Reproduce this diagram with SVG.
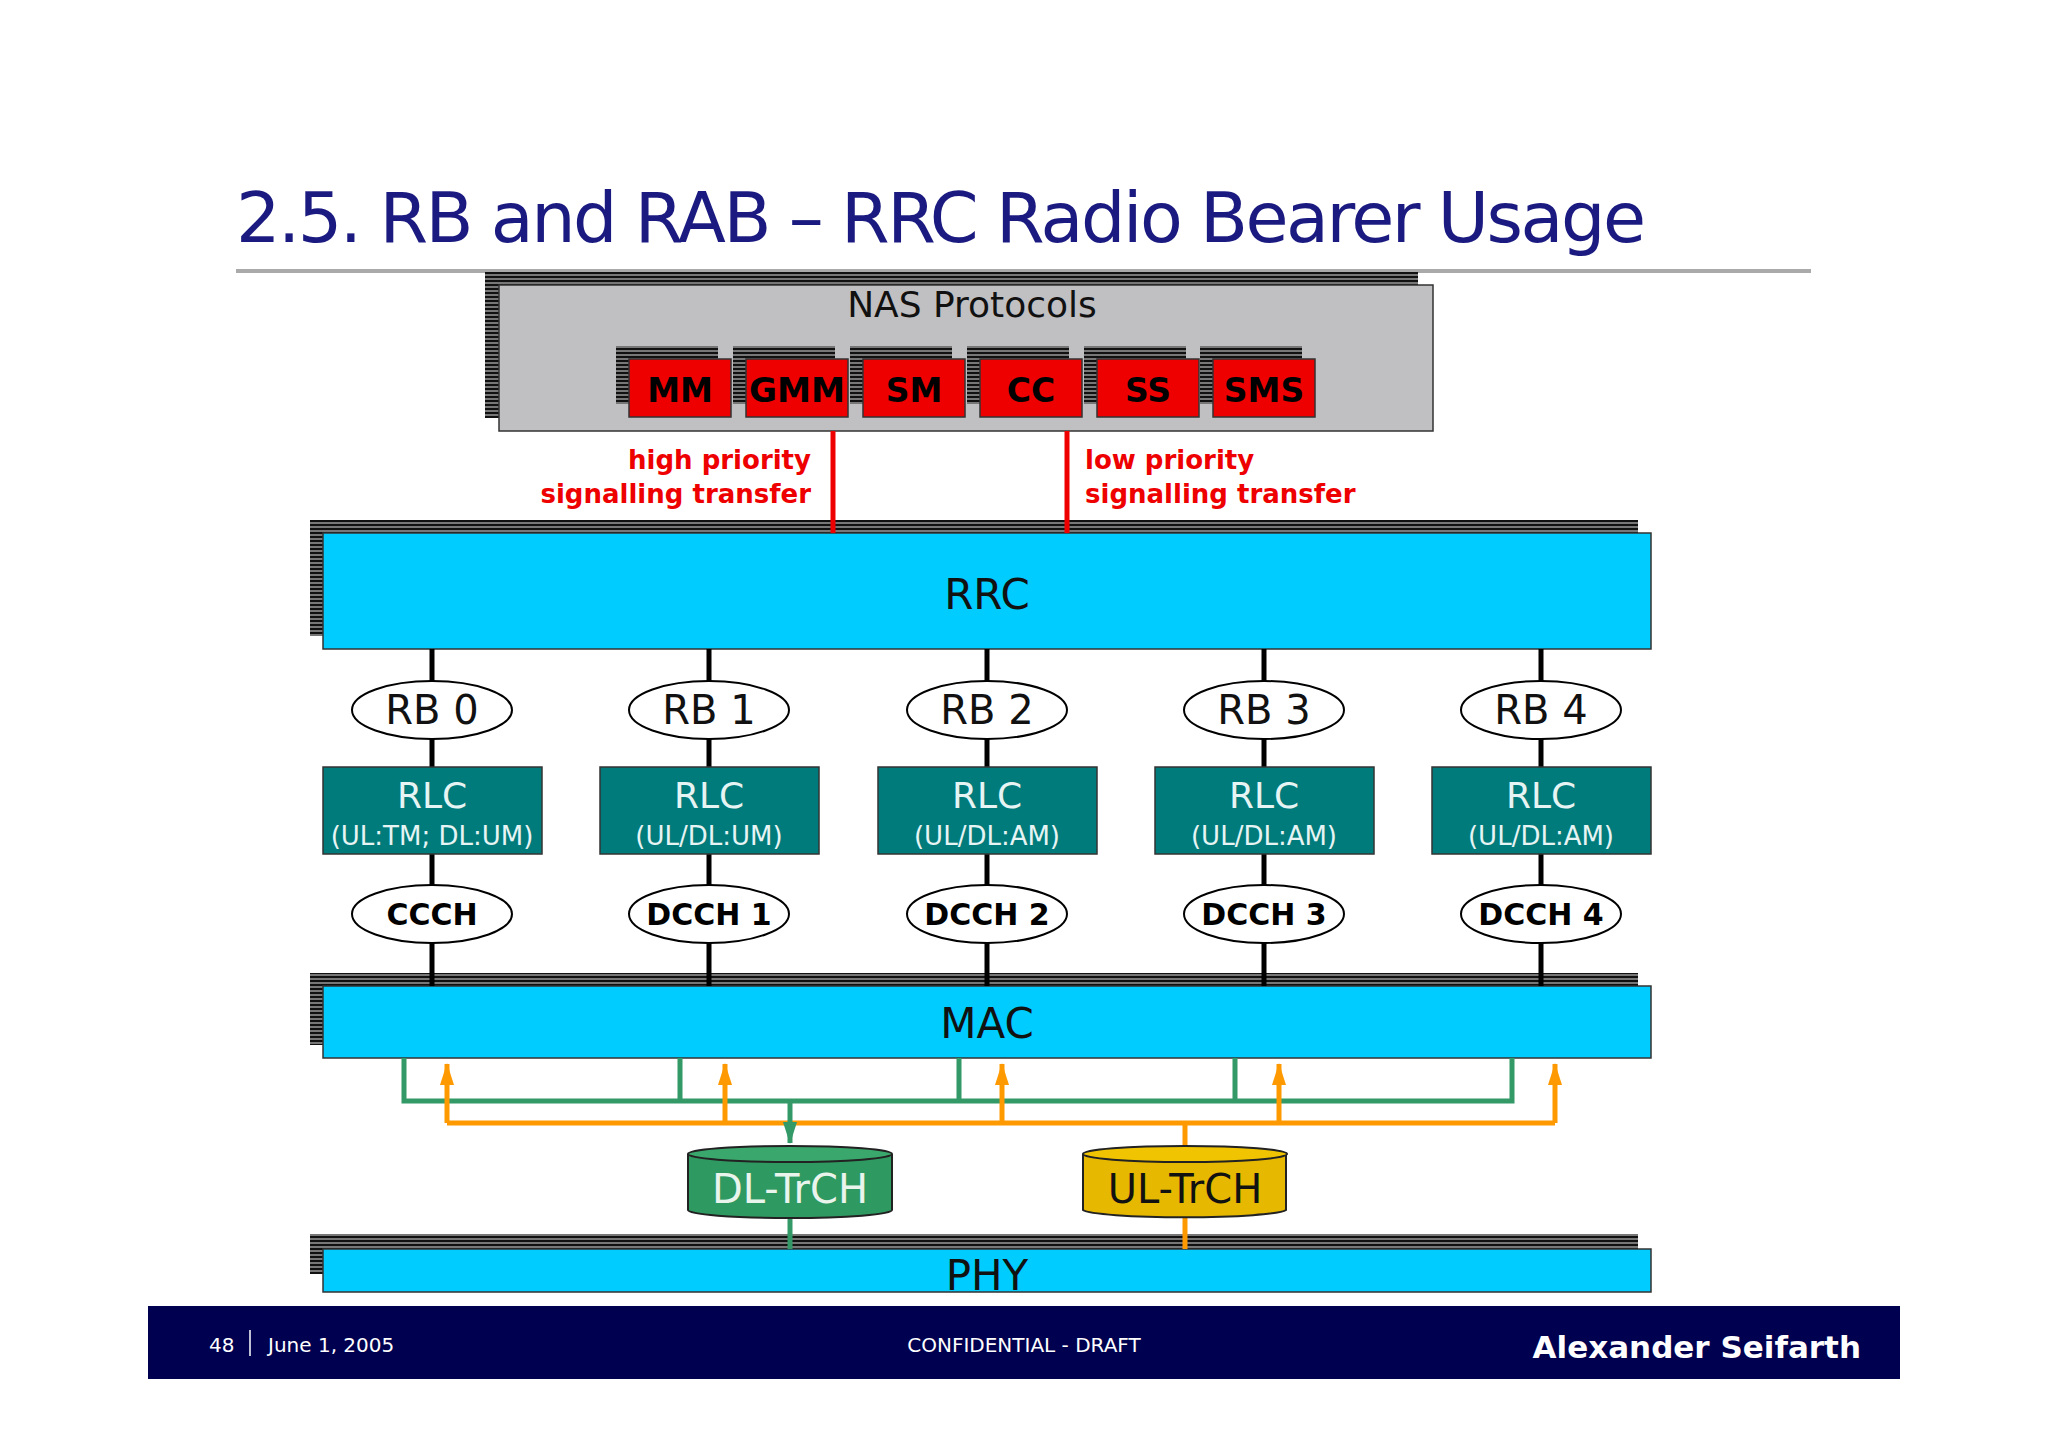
<svg xmlns="http://www.w3.org/2000/svg" width="2048" height="1447" viewBox="0 0 2048 1447">
<defs>
<pattern id="stripe" width="8" height="4" patternUnits="userSpaceOnUse"><rect width="8" height="4" fill="#777"/><rect width="8" height="2" fill="#111"/></pattern>
<marker id="ag" markerWidth="14" markerHeight="22" refX="7" refY="21" orient="0" markerUnits="userSpaceOnUse" viewBox="0 0 14 22"><path d="M0,0 L14,0 L7,22 z" fill="#339966"/></marker>
<marker id="ao" markerWidth="14" markerHeight="22" refX="7" refY="1" orient="0" markerUnits="userSpaceOnUse" viewBox="0 0 14 22"><path d="M0,22 L14,22 L7,0 z" fill="#ff9900"/></marker>
</defs>
<style>
text{font-family:"DejaVu Sans","Liberation Sans",sans-serif}
.sh{fill:url(#stripe)}
.red{fill:#ee0000;stroke:#333;stroke-width:1.5}
.rt{font-size:33px;font-weight:bold;text-anchor:middle;fill:#000}
.blue{fill:#00ccff;stroke:#333;stroke-width:1.5}
.bt{font-size:42px;text-anchor:middle;fill:#111}
.ell{fill:#fff;stroke:#000;stroke-width:2}
.rb{font-size:40px;text-anchor:middle;fill:#111}
.ch{font-size:30px;font-weight:bold;text-anchor:middle;fill:#000}
.rlc{fill:#007b7b;stroke:#333;stroke-width:1.5}
.rl1{font-size:36px;text-anchor:middle;fill:#e6f4f4}
.rl2{font-size:26px;text-anchor:middle;fill:#e6f4f4}
.vl{stroke:#000;stroke-width:5}
.lbl{font-size:26px;font-weight:bold;fill:#ee0000}
.g{stroke:#339966;stroke-width:5;fill:none}
.o{stroke:#ff9900;stroke-width:5;fill:none}
.ft{font-size:20px;fill:#fff}
</style>
<rect width="2048" height="1447" fill="#fff"/>
<text x="236" y="242" font-size="70" fill="#1a1a80" textLength="1410">2.5. RB and RAB – RRC Radio Bearer Usage</text>
<line x1="236" y1="271" x2="1811" y2="271" stroke="#aaa" stroke-width="4"/>

<g id="nas">
<rect class="sh" x="485" y="272" width="933" height="146"/>
<rect x="499" y="285" width="934" height="146" fill="#c0bfc2" stroke="#333" stroke-width="1.5"/>
<text x="972" y="317" font-size="36" text-anchor="middle" fill="#111">NAS Protocols</text>
</g>
<g id="mm"><rect class="sh" x="616" y="346" width="102" height="58"/><rect class="red" x="629" y="359" width="102" height="58"/><text class="rt" x="680" y="402">MM</text></g>
<g id="gmm"><rect class="sh" x="733" y="346" width="102" height="58"/><rect class="red" x="746" y="359" width="102" height="58"/><text class="rt" x="797" y="402" textLength="96" lengthAdjust="spacingAndGlyphs">GMM</text></g>
<g id="sm"><rect class="sh" x="850" y="346" width="102" height="58"/><rect class="red" x="863" y="359" width="102" height="58"/><text class="rt" x="914" y="402">SM</text></g>
<g id="cc"><rect class="sh" x="967" y="346" width="102" height="58"/><rect class="red" x="980" y="359" width="102" height="58"/><text class="rt" x="1031" y="402">CC</text></g>
<g id="ss"><rect class="sh" x="1084" y="346" width="102" height="58"/><rect class="red" x="1097" y="359" width="102" height="58"/><text class="rt" x="1148" y="402">SS</text></g>
<g id="sms"><rect class="sh" x="1200" y="346" width="102" height="58"/><rect class="red" x="1213" y="359" width="102" height="58"/><text class="rt" x="1264" y="402">SMS</text></g>

<g id="rrc"><rect class="sh" x="310" y="520" width="1328" height="116"/><rect class="blue" x="323" y="533" width="1328" height="116"/><text class="bt" x="987" y="609">RRC</text></g>
<g id="mac"><rect class="sh" x="310" y="973" width="1328" height="72"/><rect class="blue" x="323" y="986" width="1328" height="72"/><text class="bt" x="987" y="1038">MAC</text></g>
<g id="phy"><rect class="sh" x="310" y="1234" width="1328" height="40"/><rect class="blue" x="323" y="1249" width="1328" height="43"/><text class="bt" x="987" y="1290">PHY</text></g>

<g id="connectors">
<line x1="833" y1="431" x2="833" y2="533" stroke="#ee0000" stroke-width="5"/>
<line x1="1067" y1="431" x2="1067" y2="533" stroke="#ee0000" stroke-width="5"/>
<line class="vl" x1="432" y1="649" x2="432" y2="986"/>
<line class="vl" x1="709" y1="649" x2="709" y2="986"/>
<line class="vl" x1="987" y1="649" x2="987" y2="986"/>
<line class="vl" x1="1264" y1="649" x2="1264" y2="986"/>
<line class="vl" x1="1541" y1="649" x2="1541" y2="986"/>
<path class="g" d="M404,1058 V1101 H1512 V1058 M680,1058 V1101 M959,1058 V1101 M1235,1058 V1101"/>
<path class="o" d="M447,1123 H1555"/>
<line class="o" x1="447" y1="1123" x2="447" y2="1064" marker-end="url(#ao)"/>
<line class="o" x1="725" y1="1123" x2="725" y2="1064" marker-end="url(#ao)"/>
<line class="o" x1="1002" y1="1123" x2="1002" y2="1064" marker-end="url(#ao)"/>
<line class="o" x1="1279" y1="1123" x2="1279" y2="1064" marker-end="url(#ao)"/>
<line class="o" x1="1555" y1="1123" x2="1555" y2="1064" marker-end="url(#ao)"/>
<line class="o" x1="1185" y1="1123" x2="1185" y2="1154"/>
<line class="g" x1="790" y1="1101" x2="790" y2="1143" marker-end="url(#ag)"/>
<line class="g" x1="790" y1="1217" x2="790" y2="1249"/>
<line class="o" x1="1185" y1="1217" x2="1185" y2="1249"/>
</g>
<text class="lbl" x="811" y="469" text-anchor="end">high priority</text>
<text class="lbl" x="811" y="503" text-anchor="end">signalling transfer</text>
<text class="lbl" x="1085" y="469">low priority</text>
<text class="lbl" x="1085" y="503">signalling transfer</text>

<g id="rb0"><ellipse class="ell" cx="432" cy="710" rx="80" ry="29"/><text class="rb" x="432" y="724">RB 0</text></g>
<g id="rb1"><ellipse class="ell" cx="709" cy="710" rx="80" ry="29"/><text class="rb" x="709" y="724">RB 1</text></g>
<g id="rb2"><ellipse class="ell" cx="987" cy="710" rx="80" ry="29"/><text class="rb" x="987" y="724">RB 2</text></g>
<g id="rb3"><ellipse class="ell" cx="1264" cy="710" rx="80" ry="29"/><text class="rb" x="1264" y="724">RB 3</text></g>
<g id="rb4"><ellipse class="ell" cx="1541" cy="710" rx="80" ry="29"/><text class="rb" x="1541" y="724">RB 4</text></g>

<g id="rlc0"><rect class="rlc" x="323" y="767" width="219" height="87"/><text class="rl1" x="432" y="808">RLC</text><text class="rl2" x="432" y="845">(UL:TM; DL:UM)</text></g>
<g id="rlc1"><rect class="rlc" x="600" y="767" width="219" height="87"/><text class="rl1" x="709" y="808">RLC</text><text class="rl2" x="709" y="845">(UL/DL:UM)</text></g>
<g id="rlc2"><rect class="rlc" x="878" y="767" width="219" height="87"/><text class="rl1" x="987" y="808">RLC</text><text class="rl2" x="987" y="845">(UL/DL:AM)</text></g>
<g id="rlc3"><rect class="rlc" x="1155" y="767" width="219" height="87"/><text class="rl1" x="1264" y="808">RLC</text><text class="rl2" x="1264" y="845">(UL/DL:AM)</text></g>
<g id="rlc4"><rect class="rlc" x="1432" y="767" width="219" height="87"/><text class="rl1" x="1541" y="808">RLC</text><text class="rl2" x="1541" y="845">(UL/DL:AM)</text></g>

<g id="ccch"><ellipse class="ell" cx="432" cy="914" rx="80" ry="29"/><text class="ch" x="432" y="925">CCCH</text></g>
<g id="dcch1"><ellipse class="ell" cx="709" cy="914" rx="80" ry="29"/><text class="ch" x="709" y="925">DCCH 1</text></g>
<g id="dcch2"><ellipse class="ell" cx="987" cy="914" rx="80" ry="29"/><text class="ch" x="987" y="925">DCCH 2</text></g>
<g id="dcch3"><ellipse class="ell" cx="1264" cy="914" rx="80" ry="29"/><text class="ch" x="1264" y="925">DCCH 3</text></g>
<g id="dcch4"><ellipse class="ell" cx="1541" cy="914" rx="80" ry="29"/><text class="ch" x="1541" y="925">DCCH 4</text></g>

<g id="dltrch"><path d="M688,1154 V1210 A102,8 0 0 0 892,1210 V1154" fill="#2e9960" stroke="#222" stroke-width="2"/><ellipse cx="790" cy="1154" rx="102" ry="8" fill="#3aa86c" stroke="#222" stroke-width="2"/><text x="790" y="1203" font-size="40" text-anchor="middle" fill="#e8f4ec">DL-TrCH</text></g>
<g id="ultrch"><path d="M1083,1154 V1210 A102,8 0 0 0 1286,1210 V1154" fill="#e6b800" stroke="#222" stroke-width="2"/><ellipse cx="1185" cy="1154" rx="102" ry="8" fill="#f0c400" stroke="#222" stroke-width="2"/><text x="1185" y="1203" font-size="40" text-anchor="middle" fill="#111">UL-TrCH</text></g>

<g id="footer">
<rect x="148" y="1306" width="1752" height="73" fill="#000050"/>
<text class="ft" x="209" y="1352">48</text>
<line x1="250" y1="1330" x2="250" y2="1356" stroke="#fff" stroke-width="1.5"/>
<text class="ft" x="268" y="1352">June 1, 2005</text>
<text class="ft" x="1024" y="1352" text-anchor="middle">CONFIDENTIAL - DRAFT</text>
<text x="1861" y="1358" font-size="31" font-weight="bold" fill="#fff" text-anchor="end">Alexander Seifarth</text>
</g>
</svg>
